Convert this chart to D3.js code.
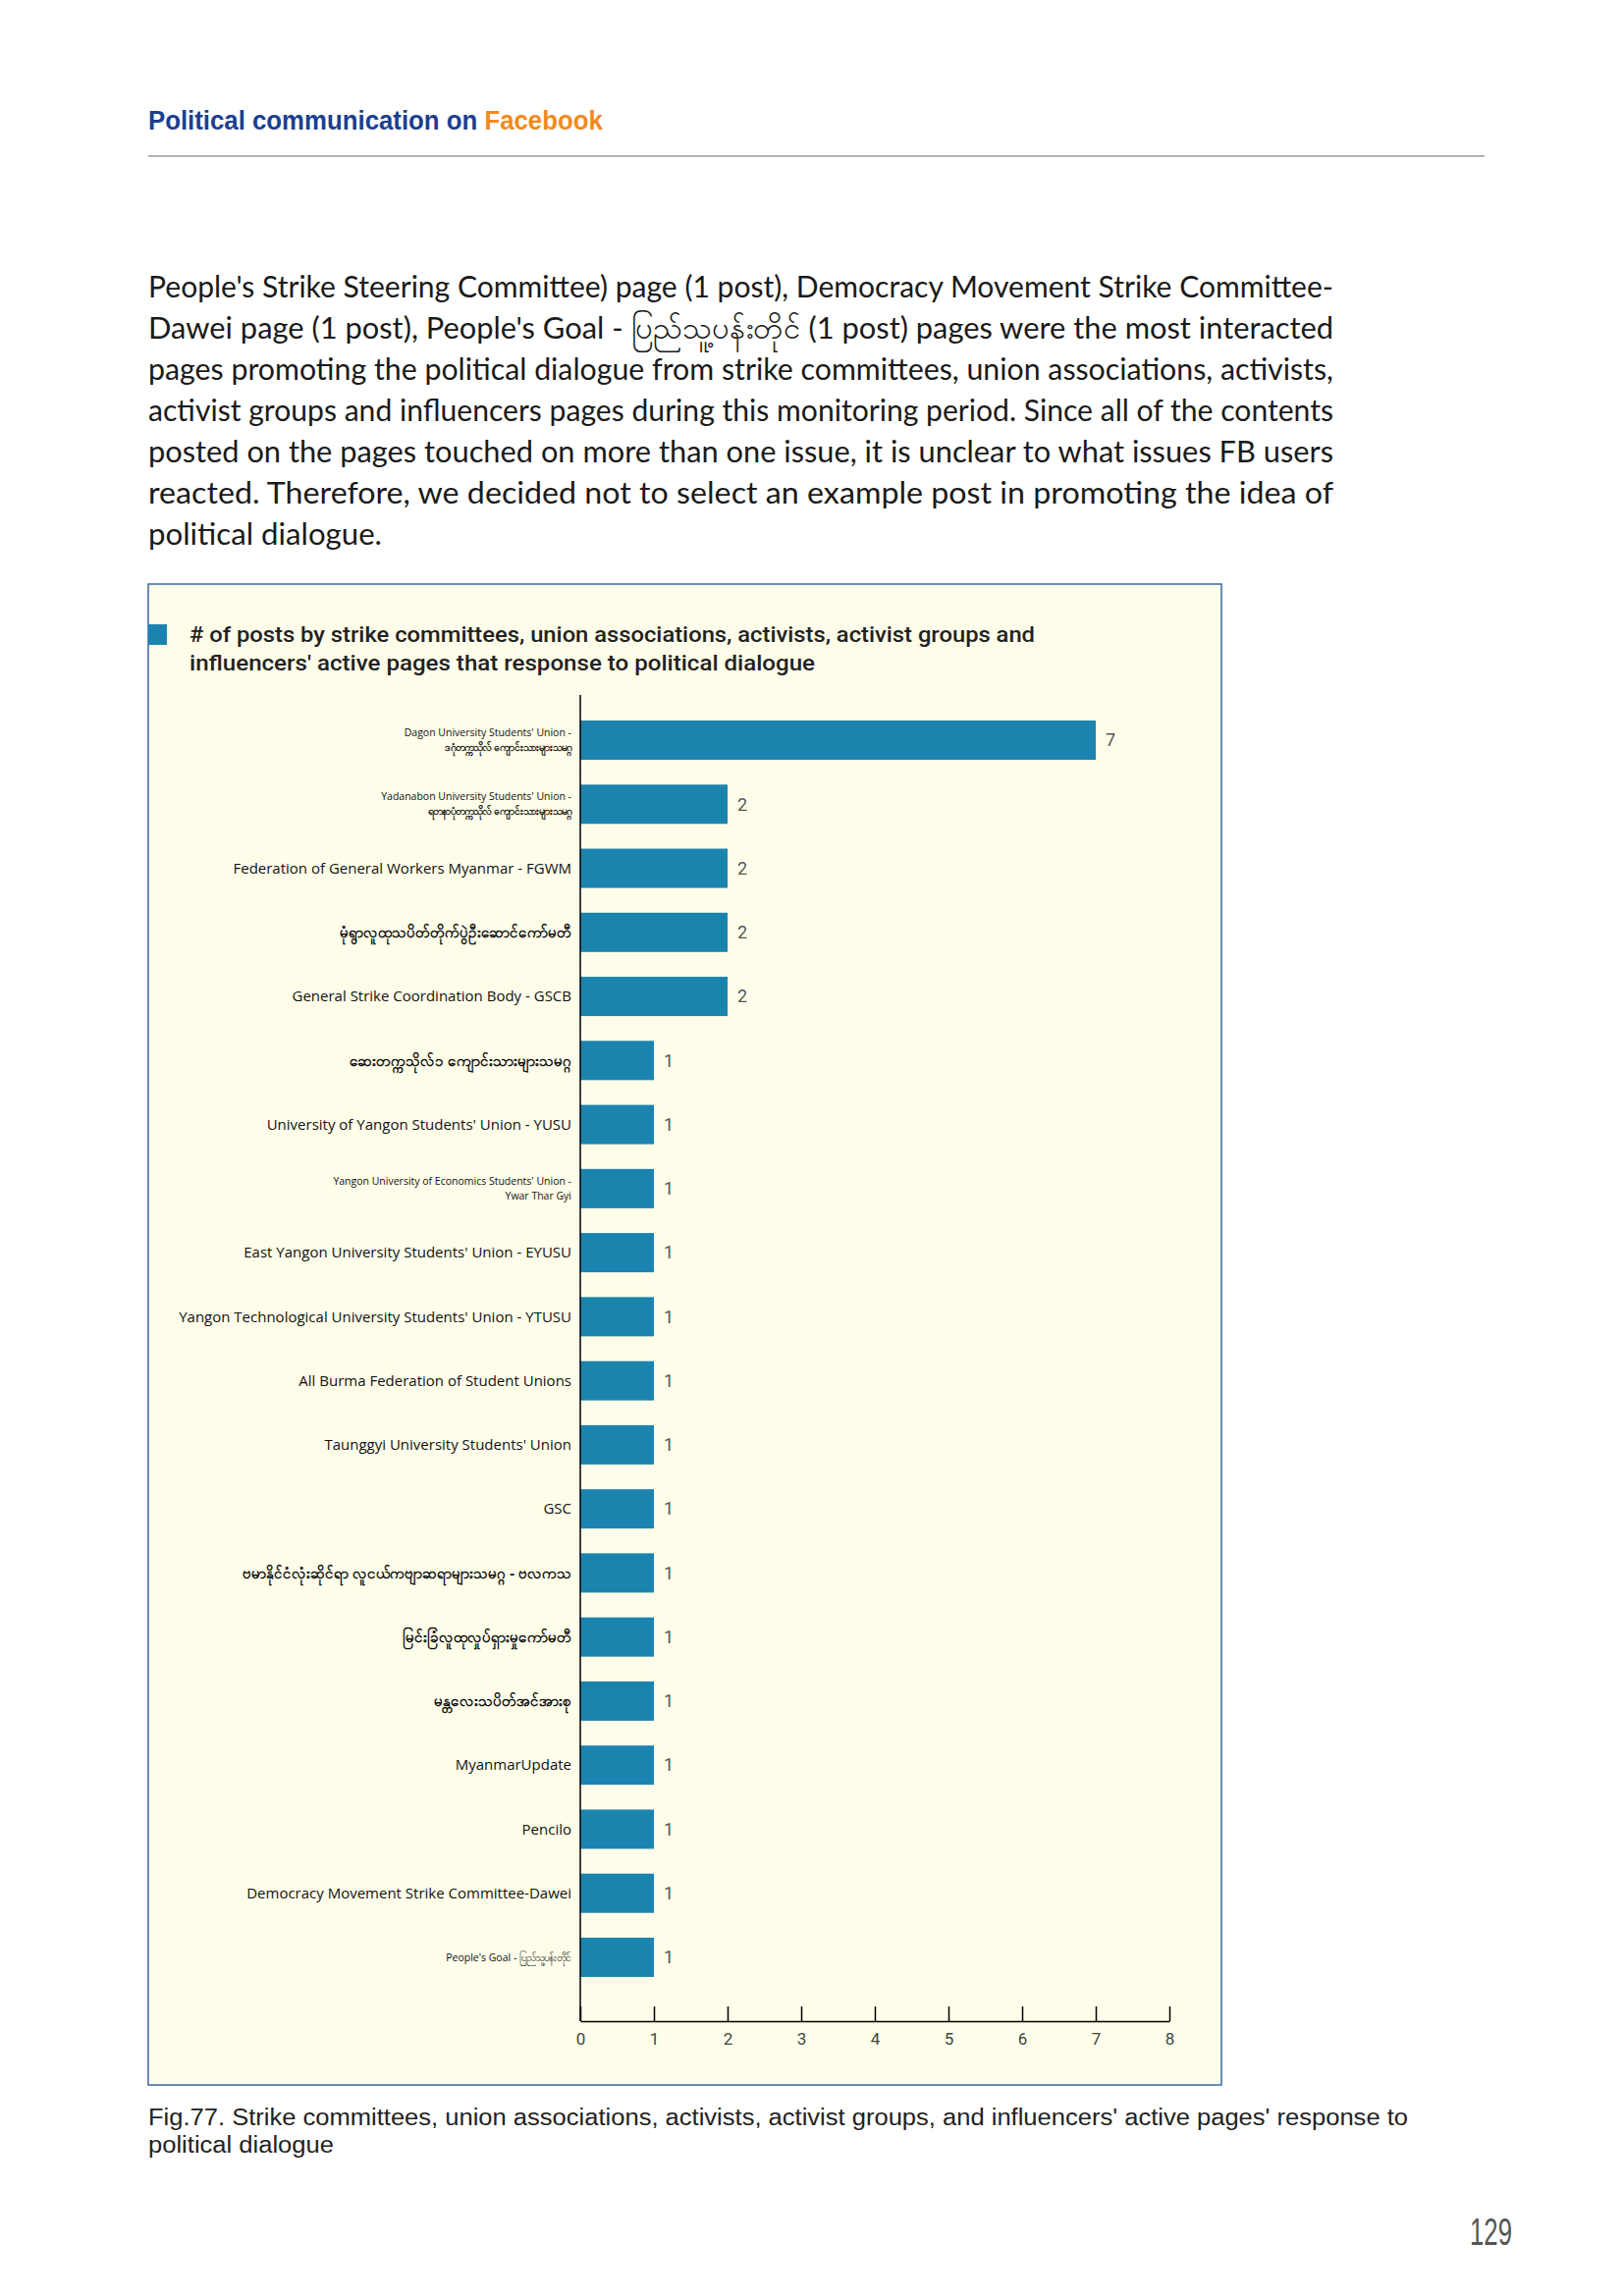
<!DOCTYPE html>
<html>
<head>
<meta charset="utf-8">
<title>Fig.77</title>
<script src="https://d3js.org/d3.v7.min.js"></script>
<style>
body {margin:0; background:#fff;}
svg {display:block;}
.para {font-family:'Lato','Noto Sans',sans-serif; font-size:31px; fill:#1a1a1a;}
.cat {font-family:'Open Sans','Noto Sans',sans-serif; fill:#111;}
.val {font-family:'Liberation Sans Narrow','Roboto',sans-serif; font-size:18px; fill:#555;}
.xaxis text {font-family:'Liberation Sans Narrow','Roboto',sans-serif; font-size:17px; fill:#444;}
.xaxis path, .xaxis line {stroke:#000; stroke-width:1.5;}
</style>
</head>
<body>
<svg id="page" width="1654" height="2339"></svg>
<script>
// chart data
var categories = [
  "Dagon University Students' Union -\nဒဂုံတက္ကသိုလ် ကျောင်းသားများသမဂ္ဂ",
  "Yadanabon University Students' Union -\nရတနာပုံတက္ကသိုလ် ကျောင်းသားများသမဂ္ဂ",
  "Federation of General Workers Myanmar - FGWM",
  "မုံရွာလူထုသပိတ်တိုက်ပွဲဦးဆောင်ကော်မတီ",
  "General Strike Coordination Body - GSCB",
  "ဆေးတက္ကသိုလ်၁ ကျောင်းသားများသမဂ္ဂ",
  "University of Yangon Students' Union - YUSU",
  "Yangon University of Economics Students' Union -\nYwar Thar Gyi",
  "East Yangon University Students' Union - EYUSU",
  "Yangon Technological University Students' Union - YTUSU",
  "All Burma Federation of Student Unions",
  "Taunggyi University Students' Union",
  "GSC",
  "ဗမာနိုင်ငံလုံးဆိုင်ရာ လူငယ်ကဗျာဆရာများသမဂ္ဂ - ဗလကသ",
  "မြင်းခြံလူထုလှုပ်ရှားမှုကော်မတီ",
  "မန္တလေးသပိတ်အင်အားစု",
  "MyanmarUpdate",
  "Pencilo",
  "Democracy Movement Strike Committee-Dawei",
  "People's Goal - ပြည်သူ့ပန်းတိုင်"
];
var values = [7,2,2,2,2,1,1,1,1,1,1,1,1,1,1,1,1,1,1,1];
var xTicks = [0,1,2,3,4,5,6,7,8];

var titleLines = [
  "# of posts by strike committees, union associations, activists, activist groups and",
  "influencers' active pages that response to political dialogue"
];
var paraLines = [
  "People's Strike Steering Committee) page (1 post), Democracy Movement Strike Committee-",
  "Dawei page (1 post), People's Goal - ပြည်သူ့ပန်းတိုင် (1 post) pages were the most interacted",
  "pages promoting the political dialogue from strike committees, union associations, activists,",
  "activist groups and influencers pages during this monitoring period. Since all of the contents",
  "posted on the pages touched on more than one issue, it is unclear to what issues FB users",
  "reacted. Therefore, we decided not to select an example post in promoting the idea of",
  "political dialogue."
];
var captionLines = [
  "Fig.77. Strike committees, union associations, activists, activist groups, and influencers' active pages' response to",
  "political dialogue"
];

var svg = d3.select('#page');
svg.append('rect').attr('width',1654).attr('height',2339).attr('fill','#fff');

//page header, squeezed to the narrow look of the original
var head = svg.append('text')
   .attr('font-family',"'Liberation Sans Narrow','Liberation Sans',sans-serif")
   .attr('font-weight','bold').attr('font-size',28);
head.append('tspan').attr('fill','#1b3f8f').text('Political communication on ');
head.append('tspan').attr('fill','#f28a1a').text('Facebook');
var headLen = head.node().getComputedTextLength();
head.attr('transform','translate(151,132) scale('+(463/headLen)+',1)');
svg.append('line')
   .attr('x1',151).attr('x2',1512).attr('y1',159).attr('y2',159)
   .attr('stroke','#999').attr('stroke-width',1.5);

//paragraph, justified lines
svg.selectAll('.para').data(paraLines).enter().append('text')
   .attr('class','para')
   .attr('x',151)
   .attr('y',function(d,i){return 303+i*42;})
   .attr('textLength',function(d,i){return i<paraLines.length-1 ? 1207 : 238;})
   .attr('lengthAdjust','spacingAndGlyphs')
   .text(function(d){return d;});

//chart box
svg.append('rect')
   .attr('x',151).attr('y',595).attr('width',1093).attr('height',1529)
   .attr('fill','#fefde9').attr('stroke','#3a66a3').attr('stroke-width',1.5);
svg.append('rect')
   .attr('x',151).attr('y',636).attr('width',19).attr('height',21)
   .attr('fill','#1a84af');
svg.selectAll('.title').data(titleLines).enter().append('text')
   .attr('class','title')
   .attr('x',193)
   .attr('y',function(d,i){return 654+i*29;})
   .attr('font-family',"'Roboto',sans-serif").attr('font-weight',500)
   .attr('font-size',22).attr('fill','#222')
   .attr('textLength',function(d,i){return i==0 ? 861 : 637;})
   .attr('lengthAdjust','spacingAndGlyphs')
   .text(function(d){return d;});

//scales
var x = d3.scaleLinear().domain([0,8]).range([591,1191]);
var y = d3.scaleBand().domain(categories).range([721.4,2026.6])
          .paddingInner(0.387).paddingOuter(0.1935);

//bars
svg.append('g').selectAll('rect').data(values).enter().append('rect')
   .attr('x',x(0))
   .attr('y',function(d,i){return y(categories[i]);})
   .attr('width',function(d){return x(d)-x(0);})
   .attr('height',y.bandwidth())
   .attr('fill','#1a84af');

//value labels
svg.append('g').selectAll('text').data(values).enter().append('text')
   .attr('class','val')
   .attr('x',function(d){return x(d)+10;})
   .attr('y',function(d,i){return y(categories[i])+y.bandwidth()/2;})
   .attr('dy','0.35em')
   .text(function(d){return d;});

//category labels
var smallIdx = [0,1,7,19];
var myanmarOnly = /^[\u1000-\u109F\s\-]+$/;
var cat = svg.append('g').selectAll('text').data(categories).enter().append('text')
   .attr('class','cat')
   .attr('text-anchor','end')
   .attr('font-size',function(d,i){return smallIdx.indexOf(i)>=0 ? 10.5 : 15;})
   .attr('font-weight',function(d){return myanmarOnly.test(d) ? 'bold' : 'normal';})
   .attr('transform',function(d){return 'translate(582,'+(y(d)+y.bandwidth()/2)+')';});
cat.each(function(d){
   var lines = d.split('\n');
   var t = d3.select(this);
   lines.forEach(function(l,j){
      t.append('tspan')
       .attr('x',0)
       .attr('y',(j-(lines.length-1)/2)*15)
       .attr('dy','0.35em')
       .attr('font-weight',myanmarOnly.test(l) ? 'bold' : null)
       .text(l);
   });
});

//axes
svg.append('line')
   .attr('x1',591).attr('x2',591).attr('y1',708).attr('y2',2059)
   .attr('stroke','#000').attr('stroke-width',1.5);
svg.append('g')
   .attr('class','xaxis')
   .attr('transform','translate(0,2059)')
   .call(d3.axisBottom(x).tickValues(xTicks).tickSizeInner(-15).tickSizeOuter(0).tickPadding(12));

//caption
svg.selectAll('.cap').data(captionLines).enter().append('text')
   .attr('class','cap')
   .attr('x',151)
   .attr('y',function(d,i){return 2165+i*28;})
   .attr('font-family',"'Liberation Sans',Arial,sans-serif")
   .attr('font-size',23).attr('fill','#222')
   .attr('textLength',function(d,i){return i==0 ? 1283 : 189;})
   .attr('lengthAdjust','spacingAndGlyphs')
   .text(function(d){return d;});

//page number
svg.append('text')
   .attr('x',1497).attr('y',2287)
   .attr('font-family',"'Liberation Sans Narrow','Liberation Sans',sans-serif")
   .attr('font-size',38).attr('fill','#555')
   .attr('textLength',43).attr('lengthAdjust','spacingAndGlyphs')
   .text('129');
</script>
</body>
</html>
